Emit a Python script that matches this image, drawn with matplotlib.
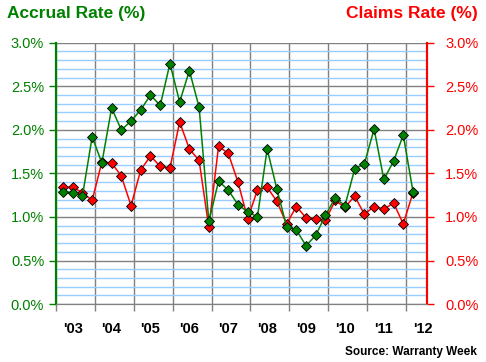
import matplotlib
matplotlib.use("Agg")
import matplotlib.pyplot as plt
import numpy as np
from matplotlib.ticker import MultipleLocator, FixedLocator, FuncFormatter

plt.rcParams['font.family'] = ['Liberation Sans', 'DejaVu Sans']

# quarterly values, 2003 Q1 .. 2012 Q1
accrual = [1.29, 1.28, 1.24, 1.92, 1.62, 2.25, 2.00, 2.10, 2.23, 2.40, 2.28, 2.76,
           2.32, 2.68, 2.26, 0.95, 1.41, 1.31, 1.14, 1.06, 1.00, 1.78, 1.32, 0.89,
           0.85, 0.67, 0.79, 1.02, 1.22, 1.13, 1.55, 1.61, 2.01, 1.43, 1.64, 1.94,
           1.29]
claims = [1.34, 1.34, 1.28, 1.19, 1.63, 1.62, 1.47, 1.13, 1.54, 1.70, 1.58, 1.56,
          2.09, 1.78, 1.65, 0.88, 1.81, 1.73, 1.40, 0.98, 1.31, 1.34, 1.18, 0.92,
          1.12, 0.99, 0.98, 0.96, 1.19, 1.11, 1.24, 1.03, 1.12, 1.09, 1.16, 0.92,
          1.28]
years = list(range(2003, 2013))
year_labels = ["'03", "'04", "'05", "'06", "'07", "'08", "'09", "'10", "'11", "'12"]

green = '#008000'
red = '#ff0000'

x = 2003 + (np.arange(len(accrual)) + 0.72) / 4

fig = plt.figure(figsize=(4.86, 3.62), dpi=100)
ax = fig.add_axes([0.1152, 0.160, 0.7634, 0.722])
ax2 = ax.twinx()

ax.plot(x, claims, color=red, lw=1.1, marker='D', ms=5.5, mfc=red, mec='black', mew=0.6, zorder=3)
ax.plot(x, accrual, color=green, lw=1.1, marker='D', ms=5.5, mfc=green, mec='black', mew=0.6, zorder=4)

ax.set_xlim(2003, 2012.54)
ax.set_ylim(0, 3.0)
ax2.set_ylim(0, 3.0)

pct = FuncFormatter(lambda v, p: '%.1f%%' % v)
for a in (ax, ax2):
    a.yaxis.set_major_locator(MultipleLocator(0.5))
    a.yaxis.set_major_formatter(pct)

ax.yaxis.set_minor_locator(MultipleLocator(0.1))
ax.grid(which='minor', axis='y', color='#99ccff', lw=1)
ax.grid(which='major', axis='y', color='#808080', lw=1)
ax.set_axisbelow(True)

ax.xaxis.set_major_locator(FixedLocator(years))
ax.xaxis.set_major_formatter(FuncFormatter(lambda v, p: ''))
ax.xaxis.set_minor_locator(FixedLocator([y + 0.43 for y in years]))
ax.xaxis.set_minor_formatter(FuncFormatter(lambda v, p: year_labels[p] if p < len(year_labels) else ''))
ax.grid(which='major', axis='x', color='#808080', lw=1)
ax.tick_params(axis='x', which='major', length=5, color='#808080', width=1)
ax.tick_params(axis='x', which='minor', length=0, pad=13, labelsize=10.5)
for t in ax.xaxis.get_minorticklabels():
    t.set_fontweight('bold')

ax.tick_params(axis='y', which='major', length=5, color=green, labelcolor=green, labelsize=10.5, width=1)
ax.tick_params(axis='y', which='minor', length=0)
ax2.tick_params(axis='y', which='major', length=5, color=red, labelcolor=red, labelsize=10.5, width=1, pad=8)

for a in (ax, ax2):
    a.spines['top'].set_visible(False)
    a.spines['left'].set_color(green)
    a.spines['right'].set_color(red)
    a.spines['bottom'].set_color('#808080')
    a.spines['left'].set_linewidth(1.5)
    a.spines['right'].set_linewidth(1.5)

fig.text(7 / 486, 1 - 18 / 362, 'Accrual Rate (%)', color=green, fontsize=12.5, fontweight='bold', ha='left', va='baseline')
fig.text(478 / 486, 1 - 18 / 362, 'Claims Rate (%)', color=red, fontsize=12.5, fontweight='bold', ha='right', va='baseline')
fig.text(477 / 486, 1 - 355 / 362, 'Source: Warranty Week', color='black', fontsize=8.5, fontweight='bold', ha='right', va='baseline')

fig.savefig('out.png', dpi=100)
